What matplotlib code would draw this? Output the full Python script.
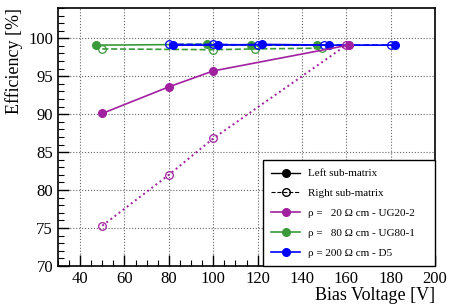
import matplotlib
matplotlib.use('Agg')
import matplotlib.pyplot as plt
from matplotlib.lines import Line2D
from matplotlib.ticker import MultipleLocator

plt.rcParams['font.family'] = ['Liberation Serif', 'DejaVu Serif']
plt.rcParams['mathtext.fontset'] = 'stix'

# UG20-2 (20 Ohm cm)
ug20_left_x = [50, 80, 100, 161]
ug20_left_y = [90.1, 93.6, 95.7, 99.1]
ug20_right_x = [50, 80, 100, 160]
ug20_right_y = [75.3, 82.0, 86.8, 99.1]

# UG80-1 (80 Ohm cm)
ug80_left_x = [47, 97, 117, 147]
ug80_left_y = [99.1, 99.2, 99.1, 99.1]
ug80_right_x = [50, 100, 119, 149]
ug80_right_y = [98.6, 98.5, 98.6, 98.7]

# D5 (200 Ohm cm)
d5_left_x = [82, 102, 122, 152, 182]
d5_left_y = [99.1, 99.1, 99.2, 99.1, 99.1]
d5_right_x = [80, 100, 120, 150, 180]
d5_right_y = [99.2, 99.2, 99.1, 99.1, 99.1]

purple = '#a020a0'
green = '#3a9a3a'
blue = '#0000ff'

fig = plt.figure(figsize=(4.49, 3.06), dpi=100)
ax = fig.add_axes([0.129, 0.131, 0.84, 0.843])

ms = 5.5
ax.plot(ug80_right_x, ug80_right_y, '--', color=green, lw=1.2, marker='o', mfc='none', ms=ms, mew=0.9)
ax.plot(ug80_left_x, ug80_left_y, '-', color=green, lw=1.2, marker='o', ms=ms)
ax.plot(d5_right_x, d5_right_y, '--', color=blue, lw=1.2, marker='o', mfc='none', ms=ms, mew=0.9)
ax.plot(d5_left_x, d5_left_y, '-', color=blue, lw=1.2, marker='o', ms=ms)
ax.plot(ug20_right_x, ug20_right_y, ':', color=purple, lw=1.4, marker='o', mfc='none', ms=ms, mew=0.9)
ax.plot(ug20_left_x, ug20_left_y, '-', color=purple, lw=1.2, marker='o', ms=ms)

ax.set_xlim(30, 200)
ax.set_ylim(70, 104)
ax.xaxis.set_major_locator(MultipleLocator(20))
ax.xaxis.set_minor_locator(MultipleLocator(5))
ax.yaxis.set_major_locator(MultipleLocator(5))
ax.yaxis.set_minor_locator(MultipleLocator(1))
ax.tick_params(which='both', direction='in', top=False, right=False, labelsize=12)
ax.tick_params(which='major', length=8, width=1)
ax.tick_params(which='minor', length=4, width=0.8)
ax.grid(True, which='major', linestyle=':', color='#666666', lw=0.8)
for s in ax.spines.values():
    s.set_linewidth(1.2)

ax.set_xlabel('Bias Voltage [V]', fontsize=13, ha='right')
ax.xaxis.set_label_coords(1.0, -0.082)
ax.set_ylabel('Efficiency [%]', fontsize=13, loc='top')

handles = [
    Line2D([], [], color='black', ls='-', marker='o', ms=ms, lw=1),
    Line2D([], [], color='black', ls='--', marker='o', mfc='none', ms=ms, lw=0.8),
    Line2D([], [], color=purple, ls='-', marker='o', ms=ms, lw=1.2),
    Line2D([], [], color=green, ls='-', marker='o', ms=ms, lw=1.2),
    Line2D([], [], color=blue, ls='-', marker='o', ms=ms, lw=1.2),
]
labels = [
    'Left sub-matrix',
    'Right sub-matrix',
    'ρ =   20 Ω cm - UG20-2',
    'ρ =   80 Ω cm - UG80-1',
    'ρ = 200 Ω cm - D5',
]
leg = ax.legend(handles, labels, loc='lower left', bbox_to_anchor=(0.544, 0.0, 0.456, 0.4),
                mode='expand', fontsize=8,
                frameon=True, fancybox=False, edgecolor='black', framealpha=1,
                borderpad=0.75, labelspacing=0.9, handlelength=2.6, handletextpad=0.7,
                borderaxespad=0.0)
leg.get_frame().set_linewidth(1.0)

fig.savefig('out.png', dpi=100)
